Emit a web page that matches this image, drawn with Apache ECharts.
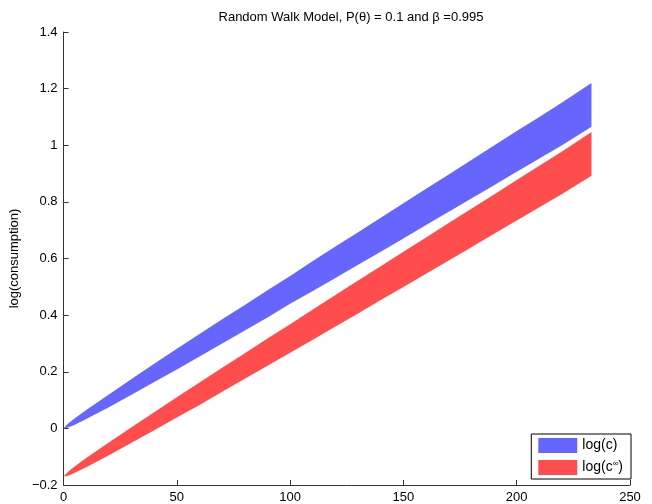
<!DOCTYPE html>
<html>
<head>
<meta charset="utf-8">
<script src="https://cdn.jsdelivr.net/npm/echarts@6/dist/echarts.min.js"></script>
<style>html,body{margin:0;padding:0;background:#fff;}#c{width:652px;height:504px;}</style>
</head>
<body>
<div id="c"></div>
<script>
// Data
const xs      = [0, 2, 5, 10, 20, 30, 40, 50, 60, 70, 80, 90, 100, 110, 120, 130, 140, 150, 160, 170, 180, 190, 200, 210, 220, 233];
const blueTop = [0, 0.017, 0.036, 0.065, 0.120, 0.174, 0.228, 0.281, 0.333, 0.385, 0.436, 0.488, 0.538, 0.591, 0.642, 0.693, 0.744, 0.795, 0.846, 0.897, 0.948, 0.999, 1.050, 1.100, 1.151, 1.220];
const blueBot = [0, 0.003, 0.013, 0.033, 0.075, 0.119, 0.164, 0.208, 0.254, 0.300, 0.346, 0.392, 0.440, 0.485, 0.531, 0.578, 0.624, 0.671, 0.718, 0.765, 0.812, 0.859, 0.906, 0.953, 1.000, 1.065];
const redTop  = [-0.17, -0.153, -0.134, -0.105, -0.050, 0.004, 0.057, 0.110, 0.162, 0.214, 0.265, 0.317, 0.368, 0.420, 0.471, 0.522, 0.573, 0.624, 0.674, 0.725, 0.776, 0.826, 0.877, 0.928, 0.978, 1.047];
const redBot  = [-0.17, -0.167, -0.157, -0.137, -0.095, -0.051, -0.007, 0.038, 0.083, 0.129, 0.175, 0.221, 0.267, 0.313, 0.360, 0.406, 0.453, 0.499, 0.546, 0.593, 0.640, 0.687, 0.734, 0.781, 0.828, 0.892];
const xTicks = [0, 50, 100, 150, 200, 250];
const yTicks = [-0.2, 0, 0.2, 0.4, 0.6, 0.8, 1, 1.2, 1.4];
const seriesNames = ['log(c)', 'log(c∞)'];
const titleText = 'Random Walk Model, P(θ) = 0.1 and β =0.995';
const yName = 'log(consumption)';

const BLUE = '#6666FF', RED = '#FF4D4D';
const FONT = 'Liberation Sans, Arial, Helvetica, sans-serif';

function band(top, bot, color) {
  return function (params, api) {
    if (params.dataIndex !== 0) return null;
    const pts = [];
    for (let i = 0; i < xs.length; i++) pts.push(api.coord([xs[i], top[i]]));
    for (let i = xs.length - 1; i >= 0; i--) pts.push(api.coord([xs[i], bot[i]]));
    return { type: 'polygon', shape: { points: pts }, style: { fill: color, stroke: null } };
  };
}

const chart = echarts.init(document.getElementById('c'), null, { renderer: 'canvas' });
chart.setOption({
  animation: false,
  backgroundColor: '#fff',
  title: {
    text: titleText, left: 346, top: 6, textAlign: 'center',
    textStyle: { fontFamily: FONT, fontSize: 13, fontWeight: 'normal', color: '#000' }
  },
  grid: { left: 63, top: 32, width: 567, height: 453, containLabel: false },
  xAxis: {
    type: 'value', min: xTicks[0], max: xTicks[xTicks.length - 1], interval: 50,
    axisLine: { show: true, onZero: false, lineStyle: { color: '#333', width: 1 } },
    axisTick: { show: true, inside: true, length: 5, lineStyle: { color: '#333' } },
    axisLabel: { fontFamily: FONT, fontSize: 13, color: '#000', margin: 6 },
    splitLine: { show: false }
  },
  yAxis: {
    type: 'value', min: yTicks[0], max: yTicks[yTicks.length - 1], interval: 0.2,
    name: yName, nameLocation: 'middle', nameGap: 42, nameRotate: 90,
    nameTextStyle: { fontFamily: FONT, fontSize: 13, color: '#000' },
    axisLine: { show: true, onZero: false, lineStyle: { color: '#333', width: 1 } },
    axisTick: { show: true, inside: true, length: 5, lineStyle: { color: '#333' } },
    axisLabel: {
      fontFamily: FONT, fontSize: 13, color: '#000', margin: 6,
      formatter: v => { const r = Math.round(v * 10) / 10; return (r < 0 ? '\u2212' : '') + String(Math.abs(r)); }
    },
    splitLine: { show: false }
  },
  legend: {
    orient: 'vertical', right: 21, bottom: 25,
    data: seriesNames,
    icon: 'rect', itemWidth: 39, itemHeight: 15, itemGap: 7,
    padding: [4, 8, 4, 7],
    borderColor: '#000', borderWidth: 1, backgroundColor: '#fff',
    textStyle: {
      fontFamily: FONT, fontSize: 14, color: '#000',
      rich: { a: { fontFamily: FONT, fontSize: 14, color: '#000' },
              s: { fontFamily: FONT, fontSize: 8, color: '#000', verticalAlign: 'top', padding: [0, 0, 7, 0] } }
    },
    formatter: n => n === seriesNames[1] ? '{a|log(c}{s|∞}{a|)}' : '{a|' + n + '}'
  },
  series: [
    { type: 'custom', name: seriesNames[0], data: [[0, 0]], renderItem: band(blueTop, blueBot, BLUE),
      itemStyle: { color: BLUE }, silent: true },
    { type: 'custom', name: seriesNames[1], data: [[0, 0]], renderItem: band(redTop, redBot, RED),
      itemStyle: { color: RED }, silent: true }
  ]
});
</script>
</body>
</html>
